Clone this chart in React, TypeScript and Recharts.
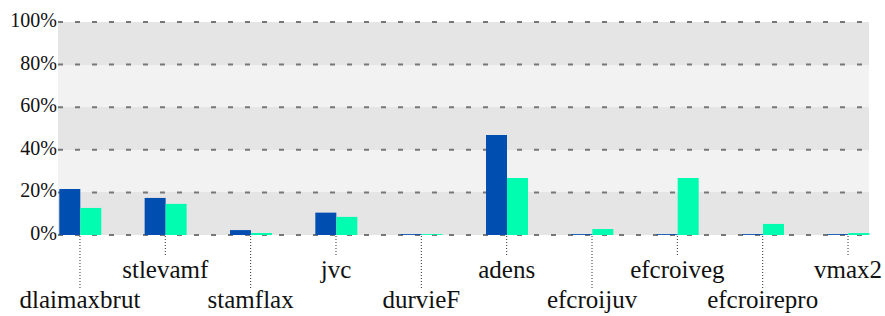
import React from "react";
import { BarChart, Bar, XAxis, YAxis, CartesianGrid } from "recharts";

const categories = [
  "dlaimaxbrut",
  "stlevamf",
  "stamflax",
  "jvc",
  "durvieF",
  "adens",
  "efcroijuv",
  "efcroiveg",
  "efcroirepro",
  "vmax2",
];
const seriesA = [21.6, 17.4, 2.3, 10.5, 0.4, 46.9, 0.4, 0.4, 0.4, 0.4];
const seriesB = [12.7, 14.6, 0.9, 8.5, 0.4, 26.8, 2.8, 26.8, 5.2, 0.9];
const yTicks = [0, 20, 40, 60, 80, 100];

const data = categories.map((c, i) => ({ name: c, a: seriesA[i], b: seriesB[i] }));

const FONT = '"Liberation Serif"';

const YTick = (props: any) => {
  const { x, y, payload } = props;
  return (
    <text
      x={x}
      y={y + 5}
      textAnchor="end"
      style={{ fontFamily: FONT, fontSize: 20, fill: "#111" }}
    >
      {payload.value}%
    </text>
  );
};

const XTick = (props: any) => {
  const { x, payload } = props;
  const idx = payload.index ?? props.index ?? 0;
  const lower = idx % 2 === 0;
  const top = 235;
  const lineEnd = lower ? 288 : 257;
  const baseline = lower ? 308 : 278;
  return (
    <g>
      <line
        x1={x}
        x2={x}
        y1={top + 1}
        y2={lineEnd}
        stroke="#333"
        strokeWidth={1}
        strokeDasharray="1 2"
      />
      <text
        x={x}
        y={baseline}
        textAnchor="middle"
        style={{ fontFamily: FONT, fontSize: 25, fill: "#111" }}
      >
        {payload.value}
      </text>
    </g>
  );
};

export default function App() {
  return (
    <div>
      <style>{`body{margin:0}`}</style>
      <BarChart
        width={885}
        height={316}
        data={data}
        margin={{ top: 22, right: 16, left: 0, bottom: 0 }}
        barGap={0}
      >
        <CartesianGrid
          vertical={false}
          stroke="#777"
          strokeWidth={2}
          strokeDasharray="5 12"
          horizontalFill={["#e5e5e5", "#f2f2f2"]}
        />
        <XAxis
          dataKey="name"
          height={81}
          axisLine={false}
          tickLine={false}
          interval={0}
          padding={{ left: -20.7, right: -21.7 }}
          tick={<XTick />}
        />
        <YAxis
          width={58}
          domain={[0, 100]}
          ticks={yTicks}
          axisLine={false}
          tickLine={false}
          tickSize={0}
          tickMargin={1}
          tick={<YTick />}
        />
        <Bar dataKey="a" fill="#004EAF" barSize={21} isAnimationActive={false} />
        <Bar dataKey="b" fill="#00FDB0" barSize={21} isAnimationActive={false} />
      </BarChart>
    </div>
  );
}
